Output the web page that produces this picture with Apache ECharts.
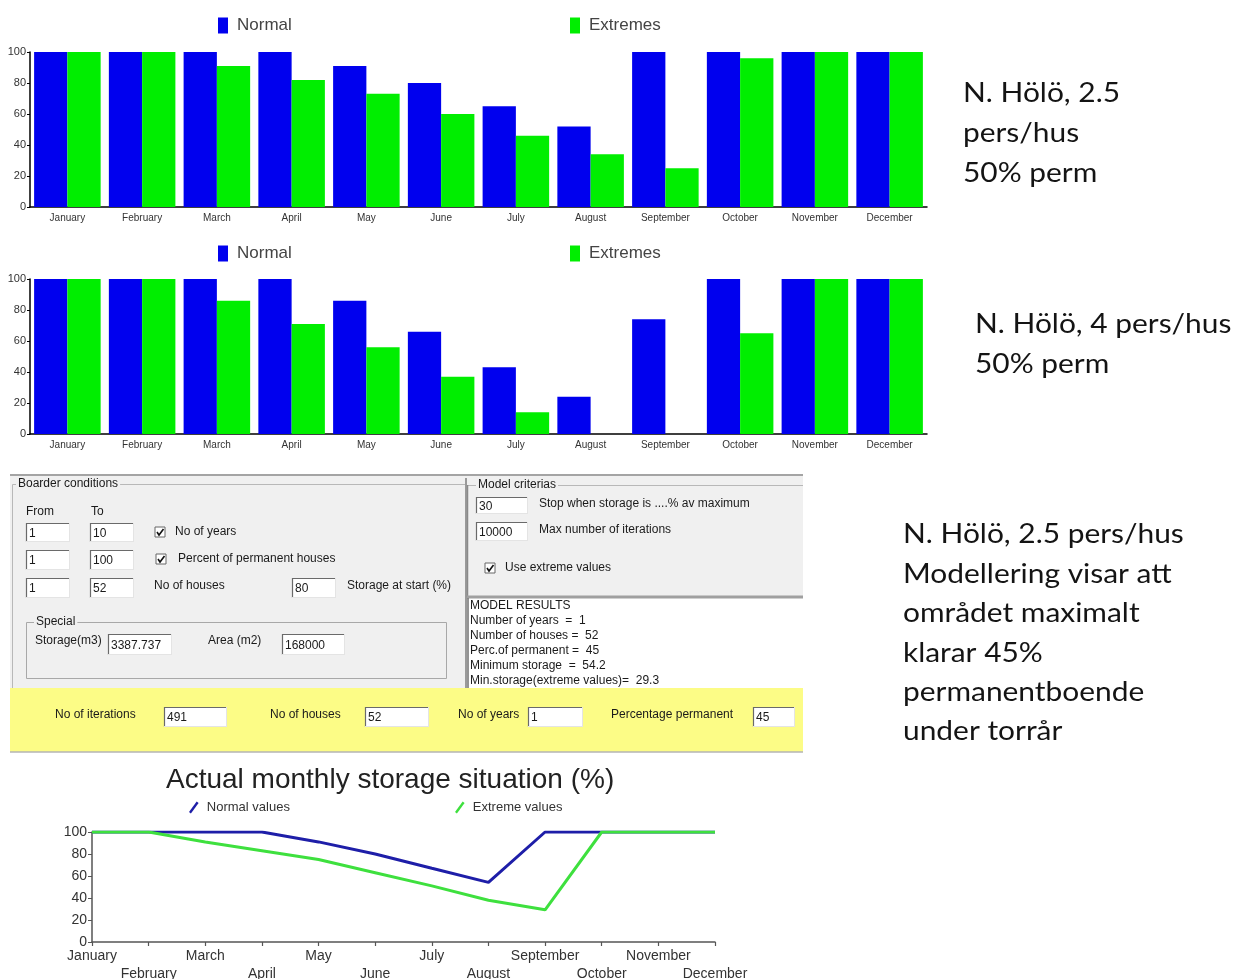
<!DOCTYPE html>
<html>
<head>
<meta charset="utf-8">
<title>N. Hölö – storage model</title>
<script src="https://cdn.jsdelivr.net/npm/echarts@6/dist/echarts.min.js"></script>
<style>
  html, body { margin: 0; padding: 0; background: #fff; }
  #chart { width: 1240px; height: 979px; }
</style>
</head>
<body>
<div id="chart"></div>
<script>
// Months on every category axis
const months = ['January', 'February', 'March', 'April', 'May', 'June',
  'July', 'August', 'September', 'October', 'November', 'December'];

// Storage (% of maximum) per month – 2.5 persons per house, 50% permanent
const normal25 = [100, 100, 100, 100, 91, 80, 65, 52, 100, 100, 100, 100];
const extremes25 = [100, 100, 91, 82, 73, 60, 46, 34, 25, 96, 100, 100];

// Storage (% of maximum) per month – 4 persons per house, 50% permanent
const normal4 = [100, 100, 100, 100, 86, 66, 43, 24, 74, 100, 100, 100];
const extremes4 = [100, 100, 86, 71, 56, 37, 14, 0, 0, 65, 100, 100];

// Actual monthly storage situation, 45% permanent
const normalLine = [100, 100, 100, 100, 91, 80, 67, 54.2, 100, 100, 100, 100];
const extremeLine = [100, 100, 91, 83, 75, 63, 51, 38, 29.3, 100, 100, 100];

// Model results box
const resultLines = [
  'MODEL RESULTS',
  'Number of years  =  1',
  'Number of houses =  52',
  'Perc.of permanent =  45',
  'Minimum storage  =  54.2',
  'Min.storage(extreme values)=  29.3'
];

// Notes beside the charts
const note1 = ['N. Hölö, 2.5', 'pers/hus', '50% perm'];
const note2 = ['N. Hölö, 4 pers/hus', '50% perm'];
const note3 = ['N. Hölö, 2.5 pers/hus', 'Modellering visar att', 'området maximalt',
  'klarar 45%', 'permanentboende', 'under torrår'];

const ARIAL = '"Liberation Sans", Arial, sans-serif';
const NOTE_FONT = 'Lato, "Open Sans", sans-serif';
const BLUE = '#0000ee';
const GREEN = '#00ee00';
const LINE_BLUE = '#1e1ea8';
const LINE_GREEN = '#3ee03e';

// ---------- axes ----------
function barXAxis(gridIndex) {
  return {
    gridIndex, type: 'category', data: months,
    axisLine: { lineStyle: { color: '#000', width: 1.5 } },
    axisTick: { interval: 0, length: 4, lineStyle: { color: '#000', width: 1.2 } },
    axisLabel: { interval: 0, fontSize: 10, color: '#333', margin: 6, fontFamily: ARIAL },
    splitLine: { show: false }
  };
}
function barYAxis(gridIndex) {
  return {
    gridIndex, type: 'value', min: 0, max: 100, interval: 20,
    axisLine: { show: true, lineStyle: { color: '#000', width: 1.5 } },
    axisTick: { show: true, length: 3, lineStyle: { color: '#000' } },
    axisLabel: { fontSize: 11, color: '#333', margin: 4, fontFamily: ARIAL },
    splitLine: { show: false }
  };
}
function barLegend(name, left, top) {
  return {
    data: [name], left, top, padding: 0, selectedMode: false,
    icon: 'rect', itemWidth: 10, itemHeight: 16,
    textStyle: { fontSize: 17, color: '#444', fontFamily: ARIAL, padding: [0, 0, 0, 4] }
  };
}
function lineLegend(name, left, top) {
  return {
    data: [name], left, top, padding: 0, selectedMode: false,
    icon: 'path://M0,11 L8,0 L10,1.5 L2,12.5 Z', itemWidth: 10, itemHeight: 12,
    itemStyle: { borderWidth: 0 },
    textStyle: { fontSize: 13, color: '#333', fontFamily: ARIAL, padding: [0, 0, 0, 3] }
  };
}
function bars(name, data, idx, color) {
  return {
    name, type: 'bar', data, xAxisIndex: idx, yAxisIndex: idx,
    itemStyle: { color }, barGap: '0%', barCategoryGap: '11%'
  };
}

// ---------- form panel drawn with graphic elements ----------
const ui = [];
function rect(x, y, w, h, fill, stroke, lw) {
  ui.push({ type: 'rect', shape: { x, y, width: w, height: h },
    style: { fill: fill || 'none', stroke: stroke || null, lineWidth: lw || 1 }, silent: true });
}
function line(x1, y1, x2, y2, stroke, lw) {
  ui.push({ type: 'line', shape: { x1, y1, x2, y2 },
    style: { stroke, lineWidth: lw || 1 }, silent: true });
}
function text(x, y, str, opts) {
  const o = opts || {};
  ui.push({ type: 'text', x, y, scaleX: o.scaleX || 1, silent: true,
    style: { text: str, fill: o.fill || '#1a1a1a', fontSize: o.size || 12,
      fontFamily: o.family || ARIAL, align: 'left', verticalAlign: 'middle',
      backgroundColor: o.bg || null, padding: o.bg ? [0, 2] : 0 } });
}
function input(x, y, w, h, value) {
  rect(x, y, w, h, '#fff');
  line(x, y + 0.5, x + w, y + 0.5, '#6a6a6a', 1.2);
  line(x + 0.5, y, x + 0.5, y + h, '#6a6a6a', 1.2);
  line(x, y + h - 0.5, x + w, y + h - 0.5, '#e4e4e4', 1);
  line(x + w - 0.5, y, x + w - 0.5, y + h, '#e4e4e4', 1);
  text(x + 3, y + h / 2 + 1, value);
}
function checkbox(x, y) {
  rect(x, y, 10, 10, '#fff', '#666', 1);
  ui.push({ type: 'polyline', shape: { points: [[x + 2, y + 5], [x + 4, y + 8], [x + 8.5, y + 2]] },
    style: { stroke: '#111', lineWidth: 1.6, fill: null }, silent: true });
}

// backgrounds
rect(10, 475, 456, 213, '#f0f0f0');
rect(466, 475, 337, 122, '#f0f0f0');
rect(467, 597, 336, 91, '#ffffff');
rect(10, 688, 793, 64, '#fcfc86');
line(10, 475, 803, 475, '#a4a4a4', 2);
line(10, 752, 803, 752, '#b4b4b4', 1.5);

// Boarder conditions group
ui.push({ type: 'polyline', shape: { points: [[12.5, 688], [12.5, 484.5], [465, 484.5]] },
  style: { stroke: '#b8b8b8', lineWidth: 1, fill: null }, silent: true });
line(466, 478, 466, 688, '#9a9a9a', 2);
text(16, 484, 'Boarder conditions', { bg: '#f0f0f0' });
text(26, 512, 'From');
text(91, 512, 'To');
input(26, 523, 44, 19, '1');
input(90, 523, 44, 19, '10');
checkbox(155, 527);
text(175, 532, 'No of years');
input(26, 550, 44, 20, '1');
input(90, 550, 44, 20, '100');
checkbox(156, 554);
text(178, 559, 'Percent of permanent houses');
input(26, 578, 44, 20, '1');
input(90, 578, 44, 20, '52');
text(154, 586, 'No of houses');
input(292, 578, 44, 20, '80');
text(347, 586, 'Storage at start (%)');

// Special group
rect(26.5, 622.5, 420, 56, null, '#a8a8a8', 1);
text(34, 622, 'Special', { bg: '#f0f0f0' });
text(35, 641, 'Storage(m3)');
input(108, 634, 64, 21, '3387.737');
text(208, 641, 'Area (m2)');
input(282, 634, 63, 21, '168000');

// Model criterias group
line(467, 485.5, 803, 485.5, '#b8b8b8', 1);
line(467.5, 485, 467.5, 597, '#8a8a8a', 1.5);
text(476, 485, 'Model criterias', { bg: '#f0f0f0' });
input(476, 497, 52, 17, '30');
text(539, 504, 'Stop when storage is ....% av maximum');
input(476, 522, 52, 19, '10000');
text(539, 530, 'Max number of iterations');
checkbox(485, 563);
text(505, 568, 'Use extreme values');
line(467, 597, 803, 597, '#a0a0a0', 3);
line(468, 598, 468, 688, '#707070', 1.5);

// Model results
resultLines.forEach((s, i) => text(470, 606 + i * 15, s));

// Yellow summary band
text(55, 715, 'No of iterations');
input(164, 707, 63, 20, '491');
text(270, 715, 'No of houses');
input(365, 707, 64, 20, '52');
text(458, 715, 'No of years');
input(528, 707, 55, 20, '1');
text(611, 715, 'Percentage permanent');
input(753, 707, 42, 20, '45');

// Notes
function note(lines, x, y0, step) {
  lines.forEach((s, i) => text(x, y0 + i * step, s,
    { size: 26, family: NOTE_FONT, fill: '#141414', scaleX: 1.15 }));
}
note(note1, 963, 94, 40);
note(note2, 975, 325, 40);
note(note3, 903, 535, 39.4);

// ---------- chart ----------
const chart = echarts.init(document.getElementById('chart'), null, { renderer: 'canvas' });
chart.setOption({
  animation: false,
  backgroundColor: '#ffffff',
  title: {
    text: 'Actual monthly storage situation (%)', left: 166, top: 766, padding: 0,
    textStyle: { fontSize: 28, fontWeight: 'normal', color: '#222', fontFamily: ARIAL }
  },
  legend: [
    barLegend('Normal', 218, 17),
    barLegend('Extremes', 570, 17),
    barLegend('Normal', 218, 245),
    barLegend('Extremes', 570, 245),
    lineLegend('Normal values', 189, 801),
    lineLegend('Extreme values', 455, 801)
  ],
  grid: [
    { left: 30, top: 52, width: 897, height: 155, outerBoundsMode: 'none', containLabel: false },
    { left: 30, top: 279, width: 897, height: 155, outerBoundsMode: 'none', containLabel: false },
    { left: 92, top: 832, width: 623, height: 110, outerBoundsMode: 'none', containLabel: false }
  ],
  xAxis: [
    barXAxis(0),
    barXAxis(1),
    {
      gridIndex: 2, type: 'category', data: months, boundaryGap: false,
      axisLine: { lineStyle: { color: '#555', width: 1.5 } },
      axisTick: { interval: 0, length: 4, lineStyle: { color: '#555', width: 1.2 } },
      axisLabel: {
        interval: 0, fontSize: 14, color: '#333', margin: 5, lineHeight: 18, fontFamily: ARIAL,
        formatter: (v, i) => (i % 2 ? '\n' + v : v)
      },
      splitLine: { show: false }
    }
  ],
  yAxis: [
    barYAxis(0),
    barYAxis(1),
    {
      gridIndex: 2, type: 'value', min: 0, max: 100, interval: 20,
      axisLine: { show: true, lineStyle: { color: '#555', width: 1.5 } },
      axisTick: { show: true, length: 4, lineStyle: { color: '#555' } },
      axisLabel: { fontSize: 14, color: '#333', margin: 5, fontFamily: ARIAL },
      splitLine: { show: false }
    }
  ],
  series: [
    bars('Normal', normal25, 0, BLUE),
    bars('Extremes', extremes25, 0, GREEN),
    bars('Normal', normal4, 1, BLUE),
    bars('Extremes', extremes4, 1, GREEN),
    {
      name: 'Normal values', type: 'line', data: normalLine, xAxisIndex: 2, yAxisIndex: 2,
      color: LINE_BLUE, symbol: 'none', lineStyle: { color: LINE_BLUE, width: 3 }, z: 2
    },
    {
      name: 'Extreme values', type: 'line', data: extremeLine, xAxisIndex: 2, yAxisIndex: 2,
      color: LINE_GREEN, symbol: 'none', lineStyle: { color: LINE_GREEN, width: 3 }, z: 3
    }
  ],
  graphic: ui
});
</script>
</body>
</html>
